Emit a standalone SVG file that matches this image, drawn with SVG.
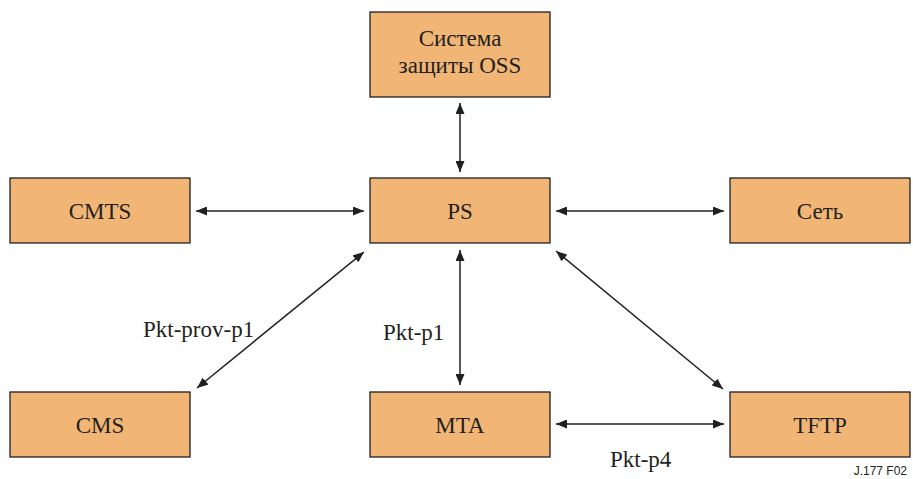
<svg xmlns="http://www.w3.org/2000/svg" width="913" height="479" viewBox="0 0 913 479">
<style>
.box{fill:#F1B675;stroke:#231F20;stroke-width:1.3}
.t{font-family:'Liberation Serif','Times New Roman',serif;font-size:23px;fill:#231F20;text-anchor:middle}
.lbl{font-family:'Liberation Serif','Times New Roman',serif;font-size:23px;fill:#231F20}
.c{stroke:#231F20;stroke-width:1.5;fill:none;marker-start:url(#ah);marker-end:url(#ah)}
</style>
<defs>
<marker id="ah" viewBox="0 0 11 9" refX="11" refY="4.5" markerWidth="11" markerHeight="9" markerUnits="userSpaceOnUse" orient="auto-start-reverse">
<path d="M0,0 L11,4.5 L0,9 Z" fill="#231F20"/>
</marker>
</defs>
<g id="oss"><rect class="box" x="370" y="12" width="180" height="85"/><text class="t" x="460" y="46">Система</text><text class="t" x="460" y="73">защиты OSS</text></g>
<g id="cmts"><rect class="box" x="10" y="178" width="180" height="65"/><text class="t" x="100" y="219">CMTS</text></g>
<g id="ps"><rect class="box" x="370" y="178" width="180" height="65"/><text class="t" x="460" y="219">PS</text></g>
<g id="net"><rect class="box" x="730" y="178" width="180" height="65"/><text class="t" x="820" y="219">Сеть</text></g>
<g id="cms"><rect class="box" x="10" y="392" width="180" height="65"/><text class="t" x="100" y="433">CMS</text></g>
<g id="mta"><rect class="box" x="370" y="392" width="180" height="65"/><text class="t" x="460" y="433">MTA</text></g>
<g id="tftp"><rect class="box" x="730" y="392" width="180" height="65"/><text class="t" x="820" y="433">TFTP</text></g>
<g id="connectors">
<line class="c" x1="460" y1="103" x2="460" y2="172"/>
<line class="c" x1="196" y1="211" x2="364" y2="211"/>
<line class="c" x1="556" y1="211" x2="724" y2="211"/>
<line class="c" x1="364" y1="252" x2="197" y2="388"/>
<line class="c" x1="460" y1="250" x2="460" y2="385"/>
<line class="c" x1="556" y1="251" x2="723" y2="389"/>
<line class="c" x1="556" y1="424" x2="724" y2="424"/>
</g>
<text class="lbl" x="143" y="337">Pkt-prov-p1</text>
<text class="lbl" x="383" y="340">Pkt-p1</text>
<text class="lbl" x="610" y="467">Pkt-p4</text>
<text x="907" y="475" style="font-family:'Liberation Sans',Arial,sans-serif;font-size:12px;fill:#231F20;text-anchor:end">J.177  F02</text>
</svg>
